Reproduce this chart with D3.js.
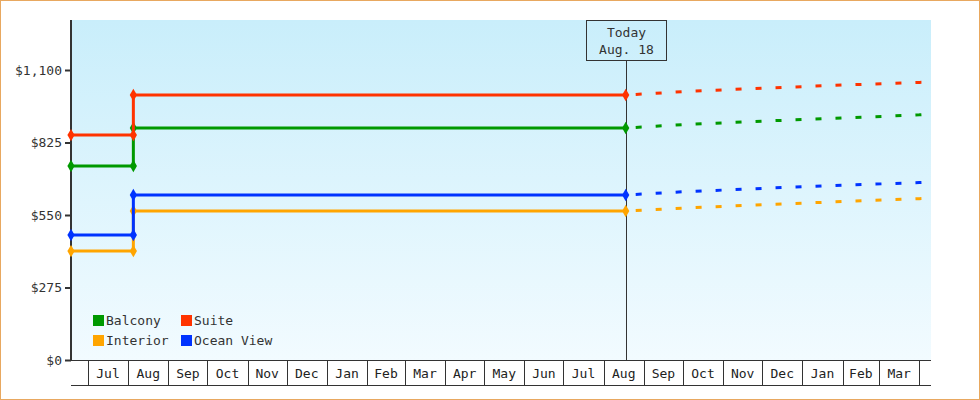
<!DOCTYPE html><html><head><meta charset="utf-8"><script src="https://cdn.jsdelivr.net/npm/d3@7"></script>
<style>body{margin:0}svg{display:block}</style></head><body><script>
const seriesNames=["Balcony","Suite","Interior","Ocean View"];
const colors=["#009900","#ff3300","#ffa500","#0033ff"];
const histDates=["2023-06-18","2023-08-05","2023-08-05","2024-08-18"];
const histValues={Balcony:[736,736,880,880],Suite:[853,853,1005,1005],Interior:[413,413,565,565],"Ocean View":[474,474,626,626]};
const projDates=["2024-08-18","2024-10-01","2024-12-01","2025-02-01","2025-04-01","2025-04-10"];
const projValues={Balcony:[880,893,906,918,930,933],Suite:[1005,1018,1031,1043,1053,1054],Interior:[565,576,589,601,612,614],"Ocean View":[626,638,651,663,673,675]};
const yTicks=[0,275,550,825,1100];
const monthStarts=["2023-07-01","2023-08-01","2023-09-01","2023-10-01","2023-11-01","2023-12-01","2024-01-01","2024-02-01","2024-03-01","2024-04-01","2024-05-01","2024-06-01","2024-07-01","2024-08-01","2024-09-01","2024-10-01","2024-11-01","2024-12-01","2025-01-01","2025-02-01","2025-03-01","2025-04-01"];
const todayDate="2024-08-18", todayLabel=["Today","Aug. 18"];
const P=d3.timeParse("%Y-%m-%d");
const W=980,H=400,L=71,R=931,T=20,B=360;
const svg=d3.select("body").append("svg").attr("width",W).attr("height",H).style("font-family","DejaVu Sans Mono").style("font-size","13px");
const defs=svg.append("defs");
const g=defs.append("linearGradient").attr("id","bg").attr("x1",0).attr("x2",0).attr("y1",0).attr("y2",1);
g.append("stop").attr("offset","0").attr("stop-color","#c9eefb");
g.append("stop").attr("offset","1").attr("stop-color","#f2fbff");
svg.append("rect").attr("x",0.5).attr("y",0.5).attr("width",W-1).attr("height",H-1).attr("fill","#fff").attr("stroke","#e8a860");
const x=d3.scaleTime().domain([P("2023-06-18"),P("2025-04-10")]).range([L,R]);
const y=d3.scaleLinear().domain([0,1100*340/290]).range([B,T]);
svg.append("rect").attr("x",L).attr("y",T).attr("width",R-L).attr("height",B-T).attr("fill","url(#bg)");
// y axis
const ya=svg.append("g").attr("transform",`translate(${L},0)`).call(d3.axisLeft(y).tickValues(yTicks).tickSize(6).tickFormat(d=>"$"+d3.format(",")(d)));
ya.select(".domain").remove();
ya.selectAll("line").attr("stroke","#333").attr("stroke-width",2);
ya.selectAll("text").attr("fill","#333").style("font-family","DejaVu Sans Mono").style("font-size","13px");
svg.append("line").attr("x1",L).attr("x2",L).attr("y1",T).attr("y2",B+1).attr("stroke","#333").attr("stroke-width",2);
// x axis boxes
svg.append("line").attr("x1",L).attr("x2",R).attr("y1",B+0.5).attr("y2",B+0.5).attr("stroke","#333");
svg.append("line").attr("x1",L).attr("x2",R).attr("y1",385.5).attr("y2",385.5).attr("stroke","#333");
const ms=monthStarts.map(P);
ms.forEach((d,i)=>{const xx=Math.round(x(d))+0.5;
 svg.append("line").attr("x1",xx).attr("x2",xx).attr("y1",B).attr("y2",385).attr("stroke","#333");
 if(i<ms.length-1){svg.append("text").attr("x",(x(d)+x(ms[i+1]))/2).attr("y",378).attr("text-anchor","middle").attr("fill","#222").text(d3.timeFormat("%b")(d));}
});
// today
const tx=Math.round(x(P(todayDate)))+0.5;
svg.append("line").attr("x1",tx).attr("x2",tx).attr("y1",60).attr("y2",B).attr("stroke","#333");
svg.append("rect").attr("x",tx-40).attr("y",20.5).attr("width",80).attr("height",40).attr("fill","none").attr("stroke","#333");
todayLabel.forEach((t,i)=>svg.append("text").attr("x",tx).attr("y",37+i*17).attr("text-anchor","middle").attr("fill","#333").text(t));
// series
const line=d3.line().x(d=>x(d[0])).y(d=>y(d[1]));
seriesNames.forEach((s,i)=>{
 const pd=projDates.map((d,j)=>[P(d),projValues[s][j]]);
 svg.append("path").attr("d",line(pd)).attr("fill","none").attr("stroke",colors[i]).attr("stroke-width",3).attr("stroke-dasharray","0,10,6,4");
 const hd=histDates.map((d,j)=>[P(d),histValues[s][j]]);
 svg.append("path").attr("d",line(hd)).attr("fill","none").attr("stroke",colors[i]).attr("stroke-width",3);
 hd.forEach(d=>svg.append("path").attr("d",d3.symbol(d3.symbolDiamond,45)()).attr("transform",`translate(${x(d[0])},${y(d[1])}) rotate(0)`).attr("fill",colors[i]));
});
// legend
const lg=[[0,93,320],[1,181,320],[2,93,340],[3,181,340]];
lg.forEach(([i,lx,ly])=>{svg.append("rect").attr("x",lx).attr("y",ly-5).attr("width",11).attr("height",11).attr("fill",colors[i]);
 svg.append("text").attr("x",lx+13).attr("y",ly+5).attr("fill","#333").text(seriesNames[i]);});
</script></body></html>
